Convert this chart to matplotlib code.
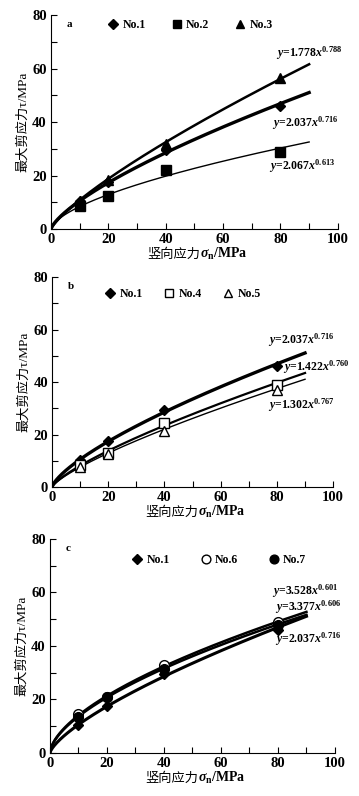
import numpy as np
import matplotlib
matplotlib.use("Agg")
import matplotlib.pyplot as plt

plt.rcParams['font.family'] = ['Liberation Serif', 'DejaVu Serif']
plt.rcParams['font.weight'] = 'bold'
plt.rcParams['mathtext.fontset'] = 'custom'
plt.rcParams['mathtext.rm'] = 'Liberation Serif:bold'
plt.rcParams['mathtext.it'] = 'Liberation Serif:italic:bold'
plt.rcParams['mathtext.bf'] = 'Liberation Serif:bold'

LABEL_FONT = ['Liberation Serif', 'Noto Sans CJK SC', 'DejaVu Sans']
CJK_FONT = ['Noto Sans CJK SC', 'DejaVu Sans']

# measured points (sigma_n in MPa)
stress = [10, 20, 40, 80]

no1 = [10.5, 17.5, 29.5, 46.0]
no2 = [8.5, 12.5, 22.0, 29.0]
no3 = [10.5, 18.5, 32.0, 56.5]
no4 = [8.5, 13.0, 24.5, 39.0]
no5 = [7.5, 12.5, 21.5, 37.0]
no6 = [14.5, 21.0, 33.0, 49.0]
no7 = [13.5, 21.0, 31.5, 48.0]

# power-law fits y = a * x^b
fit1 = (2.037, 0.716)
fit2 = (2.067, 0.613)
fit3 = (1.778, 0.788)
fit4 = (1.422, 0.760)
fit5 = (1.302, 0.767)
fit6 = (3.377, 0.606)
fit7 = (3.528, 0.601)

x_fit = np.linspace(0.0, 90, 300)

MARKER_SIZE = {'D': 5.5, 's': 7, '^': 7, 'o': 7}


def eq_label(fit):
    a, b = fit
    return r'$y$=%.3f$x^{\mathrm{%.3f}}$' % (a, b)


def setup_axes(ax, tag):
    ax.set_xlim(0, 100)
    ax.set_ylim(0, 80)
    ax.spines['top'].set_visible(False)
    ax.spines['right'].set_visible(False)
    ax.set_xticks(range(0, 101, 20))
    ax.set_xticks(range(10, 100, 20), minor=True)
    ax.set_yticks(range(0, 81, 20))
    ax.set_yticks(range(10, 80, 20), minor=True)
    ax.tick_params(which='both', direction='in', length=4, width=0.8, labelsize=10.5)
    ax.tick_params(which='major', pad=3)
    # x label: chinese part + serif math part side by side
    t1 = ax.text(0.52, -0.135, '竖向应力', transform=ax.transAxes, family=CJK_FONT,
                 fontsize=9.5, fontweight='normal', ha='right', va='baseline')
    ax.annotate(r'$\sigma_\mathrm{n}$/MPa', xy=(1, -0.135), xycoords=(t1, 'axes fraction'),
                fontsize=10, ha='left', va='baseline', annotation_clip=False)
    ax.set_ylabel('最大剪应力τ/MPa', family=LABEL_FONT, fontsize=9.5,
                  fontweight='normal', labelpad=2)
    ax.text(5.5, 76.5, tag, fontsize=8, fontweight='bold', va='center')


def draw_panel(ax, series, tag, legend_anchor, colspace):
    setup_axes(ax, tag)
    handles = []
    for vals, fit, name, marker, mfc, lw, eq_pos in series:
        ax.plot(x_fit, fit[0] * x_fit ** fit[1], color='black', lw=lw, zorder=2)
        h, = ax.plot(stress, vals, ls='none', marker=marker, ms=MARKER_SIZE[marker],
                     mfc=mfc, mec='black', mew=1.0, zorder=3, label=name)
        handles.append(h)
        ax.text(eq_pos[0], eq_pos[1], eq_label(fit), fontsize=8.5, va='center')
    ax.legend(handles=handles, loc='center left', bbox_to_anchor=legend_anchor,
              ncol=3, frameon=False, fontsize=8.5, handlelength=0.8,
              handletextpad=0.4, columnspacing=colspace, borderpad=0,
              markerscale=0.9)


fig = plt.figure(figsize=(3.59, 7.96), dpi=100)

ax_a = fig.add_axes([0.142, 0.712, 0.799, 0.269])
draw_panel(ax_a, [
    (no1, fit1, 'No.1', 'D', 'black', 2.4, (77, 39.6)),
    (no2, fit2, 'No.2', 's', 'black', 1.0, (76, 23.5)),
    (no3, fit3, 'No.3', '^', 'black', 1.8, (78.5, 65.8)),
], 'a', (0.18, 0.955), 2.2)

ax_b = fig.add_axes([0.145, 0.388, 0.783, 0.264])
draw_panel(ax_b, [
    (no1, fit1, 'No.1', 'D', 'black', 2.4, (77, 56)),
    (no4, fit4, 'No.4', 's', 'white', 1.6, (82, 45.7)),
    (no5, fit5, 'No.5', '^', 'white', 1.0, (77, 31.2)),
], 'b', (0.17, 0.92), 1.8)

ax_c = fig.add_axes([0.139, 0.054, 0.794, 0.269])
draw_panel(ax_c, [
    (no1, fit1, 'No.1', 'D', 'black', 2.2, (79, 42.6)),
    (no6, fit6, 'No.6', 'o', 'white', 1.8, (79, 54.6)),
    (no7, fit7, 'No.7', 'o', 'black', 1.8, (78, 60.6)),
], 'c', (0.27, 0.9), 2.6)

fig.savefig('out.png', dpi=100)
